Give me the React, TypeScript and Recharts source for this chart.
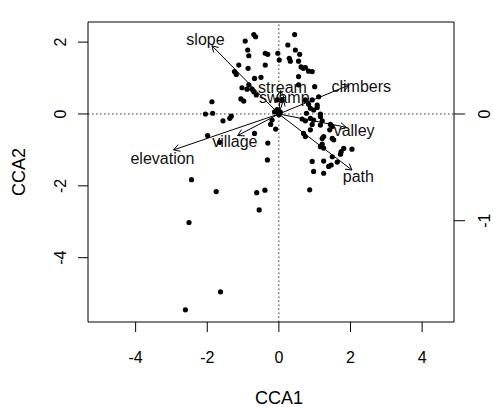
import { ScatterChart, Scatter, XAxis, YAxis, ReferenceLine } from "recharts";

// site scores (CCA1, CCA2)
const siteCCA1 = [
  -0.70, -0.65, -0.94, -0.87, -0.84, -0.38, -0.31, -0.03, 0.01, -0.38,
  -1.12, -0.86, -1.24, -1.19, -0.68, -0.50, -0.84, -0.89, -1.03, -0.75,
  -0.70, -0.63, -1.06, -0.98, -1.87, -2.05, -1.85, -1.33, -1.37, -1.56,
  -0.05, 0.04, -0.12, 0.0, -0.05, 0.09,
  -0.19, -0.23, -0.09, -1.99, -1.65, -0.68, -0.31, -0.32, -2.44, -1.75,
  -0.62, -0.39, -0.55, -2.51, -1.63, -2.61,
  0.44, 0.25, 0.46, 0.29, 0.32, 0.58, 0.55, 0.62, 0.68, 0.74,
  0.83, 0.93, 0.55, 0.55, 1.0, 0.74, 0.83, 0.93, 1.07, 1.07,
  0.88, 0.97, 1.11, 0.77, 1.16,
  0.65, 0.74, 0.88, 0.97, 0.93, 1.16, 1.21, 1.16, 1.44, 1.49,
  1.42, 0.88, 0.74, 0.69, 1.25, 1.21, 1.49, 1.53, 1.16, 1.25,
  1.21, 1.49, 1.74, 1.81, 2.04, 1.72, 0.93, 0.97, 1.25, 1.25,
  1.39, 1.46, 1.63, 0.86,
];
const siteCCA2 = [
  2.21, 2.15, 2.03, 1.78, 1.62, 1.69, 1.66, 1.69, 1.50, 1.36,
  1.36, 1.27, 1.18, 1.10, 0.99, 1.02, 0.81, 0.69, 0.73, 0.69,
  0.62, 0.53, 0.42, 0.36, 0.34, 0.0, 0.02, -0.06, -0.12, -0.19,
  0.12, 0.05, 0.06, -0.02, 0.39, 0.39,
  -0.17, -0.29, -0.42, -0.60, -0.79, -0.54, -0.81, -1.28, -1.83, -2.16,
  -2.19, -2.12, -2.67, -3.02, -4.95, -5.45,
  2.21, 1.92, 1.78, 1.55, 1.47, 1.66, 1.47, 1.31, 1.27, 1.29,
  1.19, 1.18, 1.04, 0.81, 0.76, 0.39, 0.27, 0.39, 0.25, 0.18,
  0.16, 0.11, 0.48, 0.02, 0.0,
  -0.14, -0.19, -0.12, -0.17, -0.29, -0.07, -0.19, -0.31, -0.29, -0.35,
  -0.44, -0.44, -0.63, -0.54, -0.63, -0.68, -0.68, -0.72, -0.91, -0.95,
  -0.84, -1.19, -1.05, -0.96, -0.98, -1.12, -1.32, -1.60, -1.31, -1.65,
  -1.46, -1.42, -1.34, -2.11,
];

// biplot arrows for environmental variables
const envNames = ["slope", "stream", "swamp", "climbers", "valley", "path", "village", "elevation"];
const envCCA1 = [-1.87, 0.05, 0.13, 1.95, 1.88, 2.04, -1.15, -2.94];
const envCCA2 = [1.90, 0.65, 0.40, 0.80, -0.37, -1.56, -0.60, -1.00];
const envLabelCCA1 = [-2.05, 0.10, 0.15, 2.30, 2.10, 2.22, -1.23, -3.25];
const envLabelCCA2 = [2.08, 0.74, 0.45, 0.76, -0.47, -1.74, -0.77, -1.25];

const xTicks = [-4, -2, 0, 2, 4];
const yTicks = [-4, -2, 0, 2];
const topTicks = [-1, 0, 1];
const rightTicks = [-1, 0];

const sites = siteCCA1.map((x, i) => ({ x, y: siteCCA2[i] }));
const envLabels = envNames.map((name, i) => ({ name, x: envLabelCCA1[i], y: envLabelCCA2[i] }));

const FONT = "'Liberation Sans', Arial, sans-serif";

function Arrow(props: any) {
  const { x1, y1, x2, y2 } = props;
  const ang = Math.atan2(y2 - y1, x2 - x1);
  const len = 7;
  const a1 = ang + Math.PI - Math.PI / 6;
  const a2 = ang + Math.PI + Math.PI / 6;
  return (
    <g stroke="#000" strokeWidth={1} fill="none">
      <line x1={x1} y1={y1} x2={x2} y2={y2} />
      <polyline
        points={`${x2 + len * Math.cos(a1)},${y2 + len * Math.sin(a1)} ${x2},${y2} ${x2 + len * Math.cos(a2)},${y2 + len * Math.sin(a2)}`}
      />
    </g>
  );
}

const Dot = (p: any) => <circle cx={p.cx} cy={p.cy} r={2.6} fill="#000" />;

const EnvText = (p: any) => (
  <text
    x={p.cx}
    y={p.cy}
    textAnchor="middle"
    dominantBaseline="central"
    fontSize={16}
    fontFamily={FONT}
    fill="#111"
  >
    {p.payload.name}
  </text>
);

const BottomTick = (p: any) => (
  <text x={p.x} y={357} textAnchor="middle" dominantBaseline="central" fontSize={16} fontFamily={FONT} fill="#000">
    {p.payload.value}
  </text>
);

const LeftTick = (p: any) => (
  <text
    x={61}
    y={p.y}
    transform={`rotate(-90, 61, ${p.y})`}
    textAnchor="middle"
    dominantBaseline="central"
    fontSize={16}
    fontFamily={FONT}
    fill="#000"
  >
    {p.payload.value}
  </text>
);

const RightTick = (p: any) => (
  <text
    x={485}
    y={p.y}
    transform={`rotate(-90, 485, ${p.y})`}
    textAnchor="middle"
    dominantBaseline="central"
    fontSize={16}
    fontFamily={FONT}
    fill="#000"
  >
    {p.payload.value}
  </text>
);

const NoTick = () => <g />;

export default function App() {
  return (
    <div style={{ position: "absolute", left: 0, top: 0, width: 493, height: 407, background: "#fff" }}>
      <ScatterChart width={493} height={407} margin={{ top: 0, right: 0, bottom: 0, left: 0 }}>
        <XAxis
          xAxisId="main"
          type="number"
          dataKey="x"
          domain={[-5.33, 4.89]}
          allowDataOverflow
          ticks={xTicks}
          height={85}
          tickSize={10}
          tickMargin={0}
          stroke="#000"
          tick={BottomTick}
          label={{ value: "CCA1", position: "insideBottom", offset: 0, content: () => (
            <text x={279} y={398} textAnchor="middle" dominantBaseline="central" fontSize={18} fontFamily={FONT} fill="#000">CCA1</text>
          ) }}
        />
        <XAxis
          xAxisId="top"
          orientation="top"
          type="number"
          domain={[-1.614, 1.481]}
          allowDataOverflow
          ticks={topTicks}
          height={22}
          tickSize={11}
          stroke="#000"
          tick={NoTick}
        />
        <YAxis
          yAxisId="main"
          type="number"
          dataKey="y"
          domain={[-5.79, 2.56]}
          allowDataOverflow
          ticks={yTicks}
          width={88}
          tickSize={10}
          stroke="#000"
          tick={LeftTick}
          label={{ value: "CCA2", content: () => (
            <text x={19} y={172} transform="rotate(-90, 19, 172)" textAnchor="middle" dominantBaseline="central" fontSize={18} fontFamily={FONT} fill="#000">CCA2</text>
          ) }}
        />
        <YAxis
          yAxisId="right"
          orientation="right"
          type="number"
          domain={[-1.949, 0.862]}
          allowDataOverflow
          ticks={rightTicks}
          width={39}
          tickSize={11}
          stroke="#000"
          tick={RightTick}
        />
        <ReferenceLine xAxisId="main" yAxisId="main" x={0} stroke="#333" strokeDasharray="1.5 2.5" />
        <ReferenceLine xAxisId="main" yAxisId="main" y={0} stroke="#333" strokeDasharray="1.5 2.5" />
        <Scatter xAxisId="main" yAxisId="main" data={sites} shape={Dot} isAnimationActive={false} />
        {envNames.map((name, i) => (
          <ReferenceLine
            key={name}
            xAxisId="main"
            yAxisId="main"
            segment={[{ x: 0, y: 0 }, { x: envCCA1[i], y: envCCA2[i] }]}
            shape={Arrow}
          />
        ))}
        <Scatter xAxisId="main" yAxisId="main" data={envLabels} shape={EnvText} isAnimationActive={false} />
      </ScatterChart>
    </div>
  );
}
